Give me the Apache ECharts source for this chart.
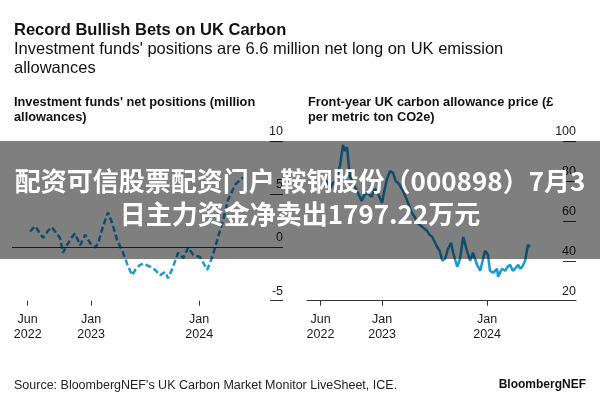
<!DOCTYPE html>
<html>
<head>
<meta charset="utf-8">
<script src="https://cdn.jsdelivr.net/npm/echarts@6/dist/echarts.min.js"></script>
<style>
  html, body { margin: 0; padding: 0; background: #fff; }
  #chart { width: 600px; height: 400px; }
</style>
</head>
<body>
<div id="chart"></div>
<script>
// ---- Data ----
const fundDates = ['2022-06-09','2022-06-26','2022-07-23','2022-08-09','2022-08-22','2022-09-01','2022-09-18','2022-09-28','2022-10-12','2022-10-29','2022-11-08','2022-11-25','2022-12-12','2022-12-29','2023-01-15','2023-01-25','2023-02-07','2023-02-27','2023-03-13','2023-03-30','2023-04-19','2023-05-06','2023-05-20','2023-05-30','2023-06-12','2023-06-26','2023-07-19','2023-08-05','2023-08-22','2023-09-08','2023-09-18','2023-10-05','2023-10-22','2023-11-08','2023-11-25','2023-12-12','2024-01-04','2024-01-28','2024-02-14','2024-03-02','2024-03-22','2024-04-08','2024-05-02','2024-05-16','2024-05-29'];
const fundValues = [1.5,2.0,0.9,1.6,1.9,1.5,0.9,-0.5,0.25,1.0,1.3,0.2,1.2,0.4,0.0,0.4,1.7,3.3,2.3,0.7,-0.5,-1.8,-2.6,-2.1,-1.7,-1.5,-1.8,-2.1,-2.6,-2.3,-2.9,-1.8,-0.5,-1.0,0.0,-0.7,-0.9,-2.1,-0.9,0.7,2.6,4.5,5.9,6.3,6.6];

const priceDates = ['2022-06-10','2022-06-22','2022-07-04','2022-07-15','2022-07-25','2022-08-08','2022-08-18','2022-08-25','2022-09-01','2022-09-11','2022-09-20','2022-09-28','2022-10-09','2022-10-22','2022-11-01','2022-11-09','2022-11-26','2022-12-06','2022-12-14','2023-01-01','2023-01-10','2023-01-18','2023-01-29','2023-02-08','2023-02-17','2023-02-26','2023-03-15','2023-03-24','2023-04-01','2023-04-15','2023-04-24','2023-05-03','2023-05-20','2023-06-06','2023-06-15','2023-06-24','2023-07-11','2023-07-20','2023-07-29','2023-08-08','2023-08-18','2023-08-29','2023-09-05','2023-09-19','2023-09-29','2023-10-10','2023-10-23','2023-11-03','2023-11-13','2023-11-27','2023-12-08','2023-12-18','2023-12-25','2024-01-04','2024-01-11','2024-01-22','2024-02-05','2024-02-08','2024-02-22','2024-03-04','2024-03-12','2024-03-21','2024-03-30','2024-04-07','2024-04-18','2024-04-25','2024-05-02','2024-05-12','2024-05-22','2024-05-29'];
const priceValues = [78,80,76,79,80,88,98,95,97,82,80,77,74,70,73,74,72,76,75,69,76,81,85,84,80,79,75,72,69,64,62,59,57,55,53,52,47,45,40,41,46,49,44,37,41,52,45,40,44,38,35,41,45,43,35,34,36,32,36,35,37,38,35,36,38,36,37,40,48,47];

const xTickDates = ['2022-06-01','2023-01-01','2024-01-01'];
const monthNames = ['Jan','Feb','Mar','Apr','May','Jun','Jul','Aug','Sep','Oct','Nov','Dec'];

// ---- Helpers ----
function toTs(s) { const p = s.split('-').map(Number); return Date.UTC(p[0], p[1]-1, p[2]); }
function fmtDate(v) { const d = new Date(v); return monthNames[d.getUTCMonth()] + '\n' + d.getUTCFullYear(); }
const fundData = fundDates.map((d, i) => [toTs(d), fundValues[i]]);
const priceData = priceDates.map((d, i) => [toTs(d), priceValues[i]]);
const tickTs = xTickDates.map(toTs);

const FONT = 'Liberation Sans, Arial, sans-serif';
const LINE = '#1b99d6';
const TXT = '#1a1a1a';

const chart = echarts.init(document.getElementById('chart'), null, { renderer: 'canvas' });

const xAxisBase = (min, max, showLine) => ({
  type: 'value',
  min: toTs(min), max: toTs(max),
  axisLine: { show: showLine, onZero: false, lineStyle: { color: '#333', width: 1 } },
  axisTick: { show: true, customValues: tickTs, length: 5, lineStyle: { color: '#333' } },
  axisLabel: { customValues: tickTs, formatter: fmtDate, color: TXT, fontSize: 12.5, fontFamily: FONT, lineHeight: 15, margin: 11 },
  splitLine: { show: false }
});

const yAxisBase = (min, max, interval) => ({
  type: 'value', position: 'right',
  min: min, max: max, interval: interval,
  axisLine: { show: false },
  axisTick: { show: true, inside: true, length: 13, lineStyle: { color: '#333' } },
  axisLabel: { inside: true, color: TXT, fontSize: 12.5, fontFamily: FONT, verticalAlign: 'bottom', margin: 0, padding: [0, 0, 3, 0] },
  splitLine: { show: false }
});

chart.setOption({
  backgroundColor: '#fff',
  animation: false,
  textStyle: { fontFamily: FONT },
  title: [
    { text: 'Record Bullish Bets on UK Carbon', left: 9, top: 17, textStyle: { fontSize: 16.5, fontWeight: 'bold', color: '#111', fontFamily: FONT } },
    { text: "Investment funds' positions are 6.6 million net long on UK emission\nallowances", left: 9, top: 35, textStyle: { fontSize: 16.5, fontWeight: 'normal', color: '#111', lineHeight: 19, fontFamily: FONT } },
    { text: "Investment funds' net positions (million\nallowances)", left: 9, top: 90, textStyle: { fontSize: 12.8, fontWeight: 'bold', color: '#111', lineHeight: 15, fontFamily: FONT } },
    { text: 'Front-year UK carbon allowance price (£\nper metric ton CO2e)', left: 303, top: 90, textStyle: { fontSize: 12.8, fontWeight: 'bold', color: '#111', lineHeight: 15, fontFamily: FONT } },
    { text: "Source: BloombergNEF's UK Carbon Market Monitor LiveSheet, ICE.", left: 9, top: 374, textStyle: { fontSize: 12.5, fontWeight: 'normal', color: '#222', fontFamily: FONT } },
    { text: 'BloombergNEF', right: 9, top: 374, textStyle: { fontSize: 12, fontWeight: 'bold', color: '#111', fontFamily: FONT } }
  ],
  grid: [
    { left: 12, right: 317, top: 141, height: 159.7 },
    { left: 307, right: 24, top: 141, height: 159.7 }
  ],
  xAxis: [
    Object.assign(xAxisBase('2022-04-09', '2024-10-10', false), { gridIndex: 0 }),
    Object.assign(xAxisBase('2022-04-15', '2024-11-05', true), { gridIndex: 1 })
  ],
  yAxis: [
    Object.assign(yAxisBase(-5, 10, 5), { gridIndex: 0 }),
    Object.assign(yAxisBase(20, 100, 20), { gridIndex: 1 })
  ],
  series: [
    {
      type: 'line', xAxisIndex: 0, yAxisIndex: 0, data: fundData,
      showSymbol: false, symbol: 'none',
      lineStyle: { color: LINE, width: 2.5, type: [6, 3] },
      markLine: {
        silent: true, symbol: 'none', label: { show: false },
        lineStyle: { color: '#333', width: 1, type: 'solid' },
        data: [{ yAxis: 0 }]
      },
      z: 3
    },
    {
      type: 'line', xAxisIndex: 1, yAxisIndex: 1, data: priceData,
      showSymbol: false, symbol: 'none',
      lineStyle: { color: LINE, width: 2.5 },
      z: 3
    }
  ],
  graphic: [
    { type: 'rect', left: 0, top: 141, shape: { width: 600, height: 118 }, style: { fill: 'rgba(0,0,0,0.5)' }, z: 100 },
    { type: 'text', left: 'center', top: 168, style: { text: '配资可信股票配资门户 鞍钢股份（000898）7月3', fill: '#fff', font: 'bold 26px "Noto Sans CJK SC", sans-serif' }, z: 101 },
    { type: 'text', left: 'center', top: 201, style: { text: '日主力资金净卖出1797.22万元', fill: '#fff', font: 'bold 26px "Noto Sans CJK SC", sans-serif' }, z: 101 }
  ]
});
</script>
</body>
</html>
